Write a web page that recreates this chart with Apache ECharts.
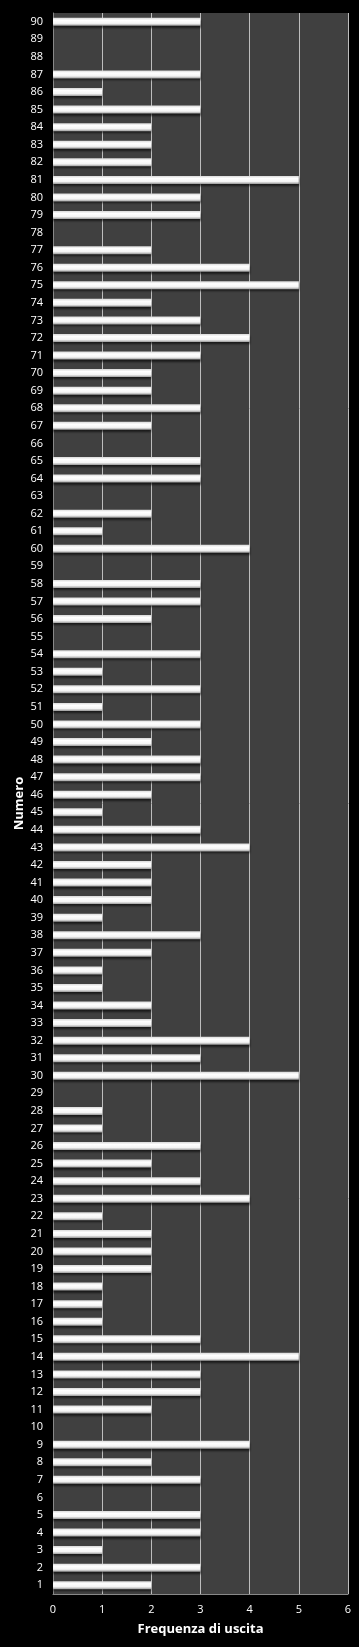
<!DOCTYPE html>
<html>
<head>
<meta charset="utf-8">
<script src="https://cdn.jsdelivr.net/npm/echarts@6/dist/echarts.min.js"></script>
<style>
  html, body { margin: 0; padding: 0; background: #000; }
  #chart { width: 359px; height: 1647px; }
</style>
</head>
<body>
<div id="chart"></div>
<script>
// numbers 1..90 and how many times each came out
const numeri = [];
for (let i = 1; i <= 90; i++) numeri.push(String(i));

const frequenze = [
  2, 3, 1, 3, 3, 0, 3, 2, 4, 0,   // 1-10
  2, 3, 3, 5, 3, 1, 1, 1, 2, 2,   // 11-20
  2, 1, 4, 3, 2, 3, 1, 1, 0, 5,   // 21-30
  3, 4, 2, 2, 1, 1, 2, 3, 1, 2,   // 31-40
  2, 2, 4, 3, 1, 2, 3, 3, 2, 3,   // 41-50
  1, 3, 1, 3, 0, 2, 3, 3, 0, 4,   // 51-60
  1, 2, 0, 3, 3, 0, 2, 3, 2, 2,   // 61-70
  3, 4, 3, 2, 5, 4, 2, 0, 3, 3,   // 71-80
  5, 2, 2, 2, 3, 1, 3, 0, 0, 3    // 81-90
];

const xTicks = [0, 1, 2, 3, 4, 5, 6];

const chart = echarts.init(document.getElementById('chart'));
const font = '"Open Sans", sans-serif';

chart.setOption({
  backgroundColor: '#000',
  animation: false,
  grid: { left: 53, right: 11, top: 13, bottom: 53, backgroundColor: '#404040', show: true, borderWidth: 0 },
  xAxis: {
    type: 'value',
    min: xTicks[0],
    max: xTicks[xTicks.length - 1],
    interval: 1,
    name: 'Frequenza di uscita',
    nameLocation: 'middle',
    nameGap: 29,
    nameMoveOverlap: false,
    nameTextStyle: { color: '#fff', fontSize: 13, fontWeight: 'bold', fontFamily: font },
    axisLine: { show: true, lineStyle: { color: '#888', width: 1 } },
    axisTick: { show: false },
    axisLabel: { color: '#fff', fontSize: 11, fontFamily: font, margin: 10 },
    splitLine: { show: true, lineStyle: { color: '#bdbdbd', width: 1 } }
  },
  yAxis: {
    type: 'category',
    data: numeri,
    name: 'Numero',
    nameLocation: 'middle',
    nameGap: 27,
    nameMoveOverlap: false,
    nameRotate: 90,
    nameTextStyle: { color: '#fff', fontSize: 13, fontWeight: 'bold', fontFamily: font },
    axisLine: { show: true, lineStyle: { color: '#888', width: 1 } },
    axisTick: { show: false },
    axisLabel: { color: '#fff', fontSize: 11, fontFamily: font, margin: 10, interval: 0 },
    splitLine: { show: false }
  },
  series: [{
    type: 'bar',
    data: frequenze,
    barWidth: 8,
    itemStyle: {
      color: new echarts.graphic.LinearGradient(0, 0, 0, 1, [
        { offset: 0, color: '#d8d8d8' },
        { offset: 0.3, color: '#ffffff' },
        { offset: 0.7, color: '#f4f4f4' },
        { offset: 1, color: '#9a9a9a' }
      ]),
      shadowColor: 'rgba(0,0,0,0.6)',
      shadowOffsetY: 2,
      shadowBlur: 2
    }
  }]
});
</script>
</body>
</html>
